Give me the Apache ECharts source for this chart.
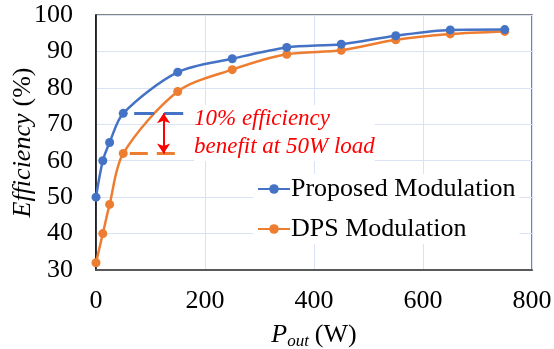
<!DOCTYPE html>
<html>
<head>
<meta charset="utf-8">
<script src="https://cdn.jsdelivr.net/npm/echarts@6/dist/echarts.min.js"></script>
<style>
  html, body { margin: 0; padding: 0; background: #fff; }
  #main { width: 554px; height: 349px; }
</style>
</head>
<body>
<div id="main"></div>
<script>
// output power (W)
var pout = [0, 12.5, 25, 50, 150, 250, 350, 450, 550, 650, 750];
// efficiency (%)
var proposed = [50, 60, 65, 73, 84.3, 88, 91.1, 92, 94.3, 95.9, 96];
var dps = [32, 40, 48, 62, 79, 85, 89.2, 90.3, 93.2, 94.8, 95.5];
var seriesNames = ['Proposed Modulation', 'DPS Modulation'];

var serif = '"Liberation Serif", "Times New Roman", serif';

function pairs(xs, ys) {
    return xs.map(function (x, i) { return [x, ys[i]]; });
}

var chart = echarts.init(document.getElementById('main'));

var option = {
    backgroundColor: '#fff',
    animation: false,
    textStyle: { fontFamily: serif },
    grid: {
        show: true,
        left: 96, right: 22, top: 15, bottom: 79,
        outerBoundsMode: 'none',
        containLabel: false,
        borderColor: '#595959',
        borderWidth: 1.5
    },
    legend: {
        orient: 'vertical',
        left: 253, top: 174,
        itemWidth: 32, itemHeight: 12,
        itemGap: 14,
        backgroundColor: '#fff',
        padding: [2, 4],
        textStyle: { fontFamily: serif, fontSize: 26, color: '#000', padding: [0, 0, 0, -4] },
        data: seriesNames
    },
    xAxis: {
        type: 'value',
        min: 0, max: 800, interval: 200,
        name: '{p|P}{s|out}{w|(W)}',
        nameLocation: 'middle',
        nameGap: 51,
        nameMoveOverlap: false,
        nameTextStyle: {
            rich: {
                p: { fontFamily: serif, fontStyle: 'italic', fontSize: 26, color: '#000' },
                s: { fontFamily: serif, fontStyle: 'italic', fontSize: 17, color: '#000', padding: [12, 0, 0, 0] },
                w: { fontFamily: serif, fontSize: 26, color: '#000', padding: [0, 0, 0, 6] }
            }
        },
        axisLine: { lineStyle: { color: '#595959', width: 2 } },
        axisTick: { show: false },
        axisLabel: { fontFamily: serif, fontSize: 26, color: '#000', margin: 18 },
        splitLine: { show: true, lineStyle: { color: '#dae3f3', width: 1 } }
    },
    yAxis: {
        type: 'value',
        min: 30, max: 100, interval: 10,
        name: '{e|Efficiency}{p|(%)}',
        nameLocation: 'middle',
        nameGap: 60,
        nameMoveOverlap: false,
        nameTextStyle: {
            rich: {
                e: { fontFamily: serif, fontStyle: 'italic', fontSize: 26, color: '#000' },
                p: { fontFamily: serif, fontSize: 26, color: '#000', padding: [0, 0, 0, 7] }
            }
        },
        axisLine: { show: true, lineStyle: { color: '#000', width: 1.5 } },
        axisTick: { show: false },
        axisLabel: { fontFamily: serif, fontSize: 26, color: '#000', margin: 23 },
        splitLine: { show: true, lineStyle: { color: '#dae3f3', width: 1 } }
    },
    series: [
        {
            name: seriesNames[0],
            type: 'line',
            data: pairs(pout, proposed),
            smooth: 0.3,
            symbol: 'circle',
            symbolSize: 9,
            color: '#4472c4',
            lineStyle: { width: 2.5 },
            z: 3,
            markLine: {
                silent: true,
                symbol: 'none',
                label: { show: false },
                lineStyle: { color: '#4472c4', type: [20, 10], width: 3 },
                data: [[{ coord: [70, 73] }, { coord: [160, 73] }]]
            }
        },
        {
            name: seriesNames[1],
            type: 'line',
            data: pairs(pout, dps),
            smooth: 0.3,
            symbol: 'circle',
            symbolSize: 9,
            color: '#ed7d31',
            lineStyle: { width: 2.5 },
            z: 2,
            markLine: {
                silent: true,
                symbol: 'none',
                label: { show: false },
                lineStyle: { color: '#ed7d31', type: [18, 9], width: 3 },
                data: [
                    [{ coord: [62, 62] }, { coord: [160, 62] }],
                    [{ coord: [124, 73], symbol: 'arrow', symbolSize: 10,
                       lineStyle: { color: '#ff0000', type: 'solid', width: 2 } },
                     { coord: [124, 62], symbol: 'arrow', symbolSize: 10 }]
                ]
            }
        }
    ],
    graphic: [
        {
            type: 'text', left: 194, top: 105, z: 10,
            style: {
                text: '10% efficiency\nbenefit at 50W load',
                fill: '#ff0000',
                font: 'italic 23px ' + serif,
                lineHeight: 28,
                backgroundColor: '#fff'
            }
        }
    ]
};

chart.setOption(option);
</script>
</body>
</html>
